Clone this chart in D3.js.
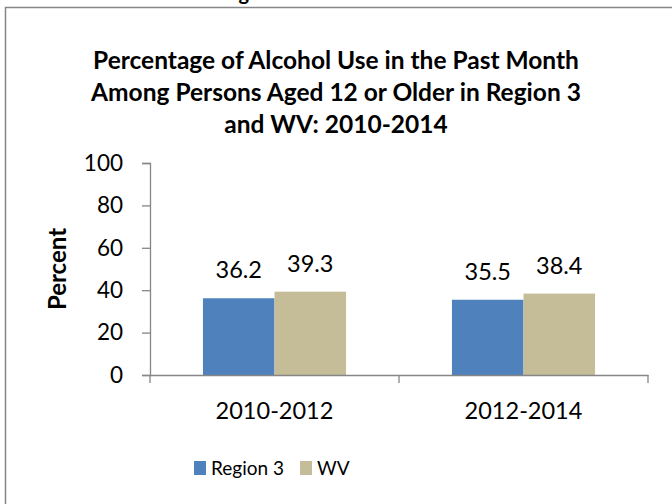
<!DOCTYPE html>
<html>
<head>
<meta charset="utf-8">
<script src="https://cdn.jsdelivr.net/npm/d3@7"></script>
<style>
  html, body { margin: 0; padding: 0; background: #fff; }
  svg { display: block; font-family: Lato, "Open Sans", sans-serif; }
</style>
</head>
<body>
<svg id="chart" width="672" height="504"></svg>
<script>
const categories = ["2010-2012", "2012-2014"];
const seriesNames = ["Region 3", "WV"];
const region3 = [36.2, 35.5];
const wv = [39.3, 38.4];
const yTicks = [0, 20, 40, 60, 80, 100];
const titleLines = [
  "Percentage of Alcohol Use in the Past Month",
  "Among Persons Aged 12 or Older in Region 3",
  "and WV: 2010-2014"
];
const colors = ["#4F81BD", "#C4BD97"];

const svg = d3.select("#chart");

// partial caption above the frame (cut off in the original)
svg.append("text").attr("x", 222).attr("y", 0).attr("font-weight", "bold")
  .attr("font-size", 20).attr("fill", "#000").text("Figure");

// chart frame
svg.append("rect").attr("x", 5.5).attr("y", 7.5).attr("width", 700).attr("height", 600)
  .attr("fill", "#fff").attr("stroke", "#868686").attr("stroke-width", 1.5);

// title
svg.append("g").selectAll("text").data(titleLines).join("text")
  .attr("x", 336).attr("y", (d, i) => 69 + i * 32)
  .attr("text-anchor", "middle").attr("font-weight", "bold").attr("font-size", 24.5)
  .attr("fill", "#000").text(d => d);

const x0 = d3.scaleBand().domain(categories).range([150, 648]).paddingInner(0).paddingOuter(0);
const x1 = d3.scaleBand().domain(seriesNames).range([0, x0.bandwidth()]).paddingInner(0).paddingOuter(0.74);
const y = d3.scaleLinear().domain([0, 100]).range([375, 163]);

const data = categories.map((c, i) => ({ cat: c, vals: [region3[i], wv[i]] }));

// y axis
const yAxis = svg.append("g").attr("transform", "translate(150,0)")
  .call(d3.axisLeft(y).tickValues(yTicks).tickSize(8).tickPadding(19).tickFormat(d3.format("d")));
yAxis.select(".domain").attr("stroke", "#868686").attr("stroke-width", 1.3);
yAxis.selectAll(".tick line").attr("stroke", "#868686").attr("stroke-width", 1.3);
yAxis.selectAll(".tick text").attr("font-size", 22.5).attr("fill", "#000")
  .attr("font-family", "Lato, sans-serif");

// bars
const groups = svg.append("g").selectAll("g").data(data).join("g")
  .attr("transform", d => `translate(${x0(d.cat)},0)`);
groups.selectAll("rect").data(d => d.vals.map((v, j) => ({ s: seriesNames[j], v, j })))
  .join("rect")
  .attr("x", d => x1(d.s)).attr("y", d => y(d.v))
  .attr("width", x1.bandwidth()).attr("height", d => y(0) - y(d.v))
  .attr("fill", d => colors[d.j]);
groups.selectAll("text.lbl").data(d => d.vals.map((v, j) => ({ s: seriesNames[j], v })))
  .join("text").attr("class", "lbl")
  .attr("x", d => x1(d.s) + x1.bandwidth() / 2).attr("y", d => y(d.v) - 20)
  .attr("text-anchor", "middle").attr("font-size", 23.5).attr("fill", "#000")
  .text(d => d3.format(".1f")(d.v));

// x axis
const xAxis = svg.append("g").attr("transform", "translate(0,375)")
  .call(d3.axisBottom(x0).tickSize(0).tickPadding(27));
xAxis.select(".domain").attr("stroke", "#868686").attr("stroke-width", 1.3);
xAxis.selectAll(".tick text").attr("font-size", 23.5).attr("fill", "#000")
  .attr("font-family", "Lato, sans-serif");
const bounds = [x0.range()[0], ...categories.map(c => x0(c) + x0.bandwidth())];
xAxis.selectAll("line.sep").data(bounds).join("line").attr("class", "sep")
  .attr("x1", d => d).attr("x2", d => d).attr("y1", 0).attr("y2", 8)
  .attr("stroke", "#868686").attr("stroke-width", 1.3);

// y axis title
svg.append("text").attr("transform", "translate(66,269) rotate(-90)")
  .attr("text-anchor", "middle").attr("font-weight", "bold").attr("font-size", 24)
  .attr("fill", "#000").text("Percent");

// legend
const legendX = [194, 300];
const leg = svg.append("g").selectAll("g").data(seriesNames).join("g")
  .attr("transform", (d, i) => `translate(${legendX[i]},461)`);
leg.append("rect").attr("width", 12).attr("height", 14).attr("fill", (d, i) => colors[i]);
leg.append("text").attr("x", 17).attr("y", 14).attr("font-size", 19).attr("fill", "#000")
  .text(d => d);
</script>
</body>
</html>
